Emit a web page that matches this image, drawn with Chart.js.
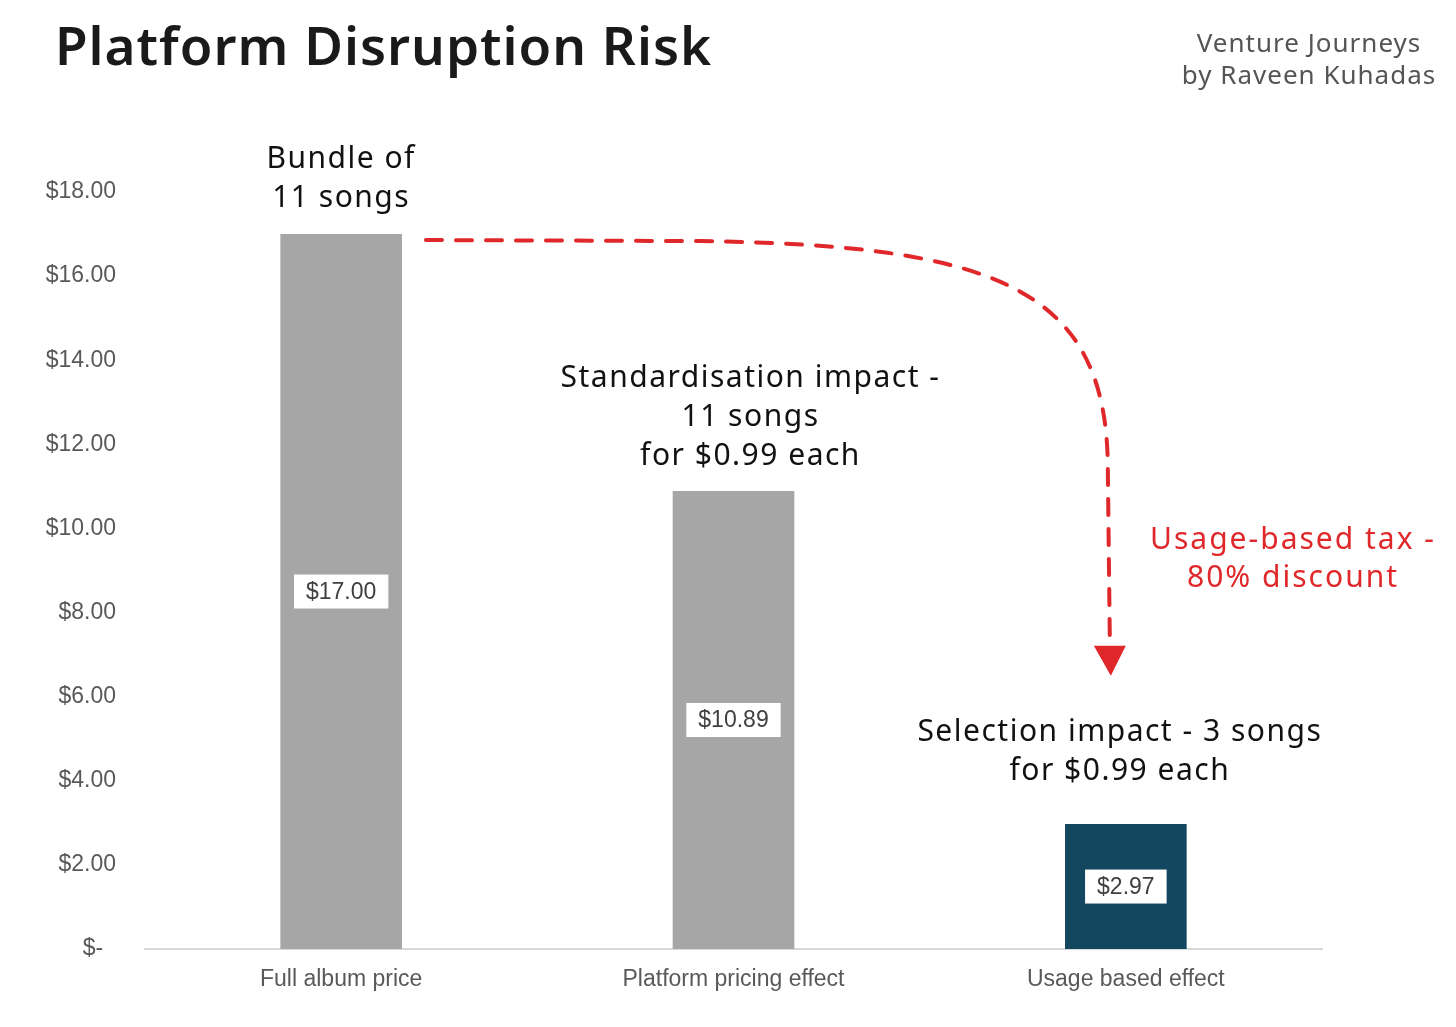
<!DOCTYPE html>
<html><head><meta charset="utf-8">
<script src="https://cdn.jsdelivr.net/npm/chart.js@4.4.1/dist/chart.umd.min.js"></script>
<style>html,body{margin:0;padding:0;background:#fff;}canvas{display:block}</style>
</head><body>
<canvas id="c" width="1456" height="1027"></canvas>
<script>
// ---- data ----
const categories = ['Full album price', 'Platform pricing effect', 'Usage based effect'];
const values = [17.00, 10.89, 2.97];
const yMin = 0, yMax = 18, yStep = 2;
const title = 'Platform Disruption Risk';
const byline = ['Venture Journeys', 'by Raveen Kuhadas'];
const barNotes = [
  ['Bundle of', '11 songs'],
  ['Standardisation impact -', '11 songs', 'for $0.99 each'],
  ['Selection impact - 3 songs', 'for $0.99 each']
];
const arrowNote = ['Usage-based tax -', '80% discount'];

// ---- styles ----
const GRAY = '#a6a6a6', NAVY = '#12475f', RED = '#e0282b';
const barColors = [GRAY, GRAY, NAVY];
const HAND = '"Noto Sans", "DejaVu Sans", sans-serif';
const TICKFONT = 'Liberation Sans, Arial, sans-serif';

function fitFont(ctx, text, family, weight, targetW, maxSize) {
  let size = maxSize;
  ctx.font = weight + ' ' + size + 'px ' + family;
  const w = ctx.measureText(text).width;
  if (w > targetW) size = Math.floor(size * targetW / w);
  return weight + ' ' + size + 'px ' + family;
}

const labelsPlugin = {
  id: 'valueLabels',
  afterDatasetsDraw(chart) {
    const ctx = chart.ctx;
    const meta = chart.getDatasetMeta(0);
    ctx.save();
    ctx.font = '23px ' + TICKFONT;
    ctx.textAlign = 'center';
    ctx.textBaseline = 'middle';
    meta.data.forEach((bar, i) => {
      const txt = '$' + values[i].toFixed(2);
      const cy = (bar.y + bar.base) / 2;
      const w = ctx.measureText(txt).width + 24, h = 34;
      ctx.fillStyle = '#ffffff';
      ctx.fillRect(bar.x - w / 2, cy - h / 2, w, h);
      ctx.fillStyle = '#404040';
      ctx.fillText(txt, bar.x, cy + 1);
    });
    ctx.restore();
  }
};

const annotPlugin = {
  id: 'annotations',
  afterDraw(chart) {
    const ctx = chart.ctx;
    const y = chart.scales.y;
    const meta = chart.getDatasetMeta(0);
    ctx.save();
    // title
    ctx.fillStyle = '#1a1a1a';
    ctx.textBaseline = 'middle';
    ctx.textAlign = 'left';
    ctx.letterSpacing = '1px';
    ctx.font = fitFont(ctx, title, HAND, '600', 663, 54);
    ctx.fillText(title, 55, 50);
    // byline
    ctx.fillStyle = '#555555';
    ctx.textAlign = 'center';
    ctx.letterSpacing = '1px';
    ctx.font = '26px ' + HAND;
    ctx.fillText(byline[0], 1309, 45);
    ctx.fillText(byline[1], 1309, 77);

    // bar notes
    const noteDx = [0, 17, -6];
    const noteGap = [36, 35, 53];
    const lineH = 39;
    ctx.fillStyle = '#111111';
    ctx.letterSpacing = '1.5px';
    barNotes.forEach((lines, i) => {
      const bar = meta.data[i];
      const cx = bar.x + noteDx[i];
      const lastY = bar.y - noteGap[i];
      lines.forEach((t, k) => {
        ctx.font = '30px ' + HAND;
        ctx.fillText(t, cx, lastY - (lines.length - 1 - k) * lineH);
      });
    });
    ctx.letterSpacing = '0px';

    // arrow from bar 1 top to above bar 3
    const b0 = meta.data[0], b2 = meta.data[2];
    const sx = b0.x + b0.width / 2 + 24, sy = b0.y + 6;
    const ex = b2.x - 16;
    const tipY = y.getPixelForValue(6.5);
    const headH = 30, headW = 32;
    ctx.strokeStyle = RED;
    ctx.lineWidth = 4;
    ctx.lineCap = 'round';
    ctx.setLineDash([16, 14]);
    ctx.beginPath();
    ctx.moveTo(sx, sy);
    ctx.lineTo(700, sy + 1);
    ctx.bezierCurveTo(1000, sy + 5, ex - 2, sy + 50, ex - 2, sy + 230);
    ctx.lineTo(ex, tipY - headH - 4);
    ctx.stroke();
    ctx.setLineDash([]);
    ctx.fillStyle = RED;
    ctx.beginPath();
    ctx.moveTo(ex - headW / 2, tipY - headH);
    ctx.lineTo(ex + headW / 2, tipY - headH);
    ctx.lineTo(ex + 1, tipY);
    ctx.closePath();
    ctx.fill();

    // red note
    ctx.letterSpacing = '2px';
    ctx.font = '30px ' + HAND;
    ctx.fillText(arrowNote[0], 1293, 540);
    ctx.fillText(arrowNote[1], 1293, 578);
    ctx.restore();
  }
};

new Chart(document.getElementById('c'), {
  type: 'bar',
  data: {
    labels: categories,
    datasets: [{
      data: values,
      backgroundColor: barColors,
      borderWidth: 0,
      barPercentage: 0.31,
      categoryPercentage: 1.0
    }]
  },
  options: {
    responsive: false,
    animation: false,
    devicePixelRatio: 1,
    layout: { padding: { top: 192, right: 134, bottom: 30, left: 0 } },
    plugins: { legend: { display: false }, tooltip: { enabled: false }, title: { display: false } },
    scales: {
      y: {
        min: yMin, max: yMax,
        grid: { display: false, drawTicks: false },
        border: { display: false },
        ticks: {
          stepSize: yStep,
          padding: 29,
          color: '#595959',
          font: { family: TICKFONT, size: 23 },
          callback: v => v === 0 ? '$-  ' : '$' + Number(v).toFixed(2)
        },
        afterFit: s => { s.width = 145; }
      },
      x: {
        grid: { display: false, drawTicks: false },
        border: { display: true, color: '#d9d9d9', width: 2 },
        ticks: { padding: 17, color: '#595959', font: { family: TICKFONT, size: 23 } },
        afterFit: s => { s.height = 48; }
      }
    }
  },
  plugins: [labelsPlugin, annotPlugin]
});
</script>
</body></html>
